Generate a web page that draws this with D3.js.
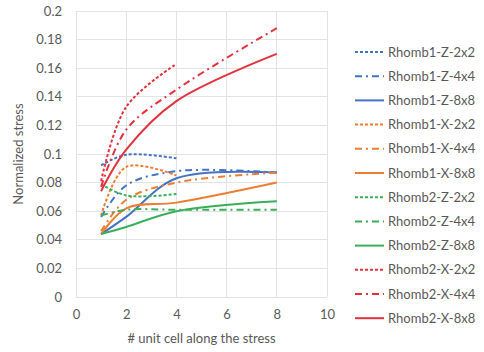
<!DOCTYPE html>
<html>
<head>
<meta charset="utf-8">
<script src="https://cdn.jsdelivr.net/npm/d3@7"></script>
<style>
  html, body { margin: 0; padding: 0; background: #fff; }
  svg { display: block; font-family: Lato, "Open Sans", sans-serif; }
</style>
</head>
<body>
<svg id="chart" width="484" height="352"></svg>
<script>
// Unit-cell counts along the stress direction
const cellsShort = [1, 2, 4];
const cellsLong = [1, 2, 4, 8];

// Normalized stress per configuration
const rhomb1Z2 = [0.092, 0.0995, 0.097];
const rhomb1Z4 = [0.056, 0.078, 0.088, 0.087];
const rhomb1Z8 = [0.044, 0.056, 0.083, 0.087];
const rhomb1X2 = [0.057, 0.091, 0.085];
const rhomb1X4 = [0.046, 0.068, 0.080, 0.087];
const rhomb1X8 = [0.044, 0.062, 0.066, 0.080];
const rhomb2Z2 = [0.079, 0.071, 0.072];
const rhomb2Z4 = [0.057, 0.061, 0.061, 0.061];
const rhomb2Z8 = [0.044, 0.049, 0.060, 0.067];
const rhomb2X2 = [0.081, 0.133, 0.163];
const rhomb2X4 = [0.077, 0.117, 0.145, 0.188];
const rhomb2X8 = [0.074, 0.103, 0.137, 0.170];

const seriesNames = [
  "Rhomb1-Z-2x2", "Rhomb1-Z-4x4", "Rhomb1-Z-8x8",
  "Rhomb1-X-2x2", "Rhomb1-X-4x4", "Rhomb1-X-8x8",
  "Rhomb2-Z-2x2", "Rhomb2-Z-4x4", "Rhomb2-Z-8x8",
  "Rhomb2-X-2x2", "Rhomb2-X-4x4", "Rhomb2-X-8x8"
];
const seriesValues = [
  rhomb1Z2, rhomb1Z4, rhomb1Z8,
  rhomb1X2, rhomb1X4, rhomb1X8,
  rhomb2Z2, rhomb2Z4, rhomb2Z8,
  rhomb2X2, rhomb2X4, rhomb2X8
];

const xTicks = [0, 2, 4, 6, 8, 10];
const yTicks = [0, 0.02, 0.04, 0.06, 0.08, 0.1, 0.12, 0.14, 0.16, 0.18, 0.2];

const colors = { Z1: "#4472C4", X1: "#ED7D31", Z2: "#3AAE5A", X2: "#E2323E" };
const dashes = { "2x2": "3,2", "4x4": "7,4,2,4", "8x8": null };

const svg = d3.select("#chart");
const plot = { left: 76, right: 327, top: 11, bottom: 297 };

const x = d3.scaleLinear().domain([0, 10]).range([plot.left, plot.right]);
const y = d3.scaleLinear().domain([0, 0.2]).range([plot.bottom, plot.top]);

// Grid
const grid = svg.append("g");
grid.selectAll("line.h").data(yTicks).join("line")
  .attr("x1", plot.left).attr("x2", plot.right)
  .attr("y1", d => y(d)).attr("y2", d => y(d))
  .attr("stroke", "#e3e3e3").attr("stroke-width", 1).attr("shape-rendering", "crispEdges");
grid.selectAll("line.v").data(xTicks).join("line")
  .attr("y1", plot.top).attr("y2", plot.bottom)
  .attr("x1", d => x(d)).attr("x2", d => x(d))
  .attr("stroke", "#e3e3e3").attr("stroke-width", 1).attr("shape-rendering", "crispEdges");

// Axes (labels only, lines come from the grid)
const xAxis = svg.append("g")
  .attr("transform", `translate(0,${plot.bottom})`)
  .call(d3.axisBottom(x).tickValues(xTicks).tickSize(0).tickPadding(13).tickFormat(d3.format("d")));
const yAxis = svg.append("g")
  .attr("transform", `translate(${plot.left},0)`)
  .call(d3.axisLeft(y).tickValues(yTicks).tickSize(0).tickPadding(14).tickFormat(d => d === 0 ? "0" : String(+d.toFixed(2))));
[xAxis, yAxis].forEach(a => {
  a.select(".domain").remove();
  a.selectAll("text").attr("fill", "#595959").attr("font-size", 13)
    .attr("font-family", "Lato, 'Open Sans', sans-serif");
});

// Axis titles
svg.append("text")
  .attr("x", (plot.left + plot.right) / 2).attr("y", 343)
  .attr("text-anchor", "middle").attr("fill", "#595959").attr("font-size", 13)
  .text("# unit cell along the stress");
svg.append("text")
  .attr("transform", `translate(23,${(plot.top + plot.bottom) / 2}) rotate(-90)`)
  .attr("text-anchor", "middle").attr("fill", "#595959").attr("font-size", 13)
  .text("Normalized stress");

// Series
function styleOf(name) {
  const parts = name.split("-");
  const key = parts[1] + parts[0].slice(-1);
  return { color: colors[key], dash: dashes[parts[2]] };
}

const line = d3.line()
  .x(d => x(d[0])).y(d => y(d[1]))
  .curve(d3.curveCatmullRom.alpha(0.5));

const series = seriesNames.map((name, i) => {
  const vals = seriesValues[i];
  const xs = vals.length === 3 ? cellsShort : cellsLong;
  return { name, points: vals.map((v, j) => [xs[j], v]), ...styleOf(name) };
});

svg.append("g").selectAll("path").data(series).join("path")
  .attr("d", d => line(d.points))
  .attr("fill", "none")
  .attr("stroke", d => d.color)
  .attr("stroke-width", 2)
  .attr("stroke-dasharray", d => d.dash);

// Legend
const legend = svg.append("g");
const rowY = i => 52 + i * 24.2;
const items = legend.selectAll("g").data(series).join("g")
  .attr("transform", (d, i) => `translate(0,${rowY(i)})`);
items.append("line")
  .attr("x1", 355).attr("x2", 384).attr("y1", 0).attr("y2", 0)
  .attr("stroke", d => d.color).attr("stroke-width", 2)
  .attr("stroke-dasharray", d => d.dash);
items.append("text")
  .attr("x", 388).attr("y", 0).attr("dy", "0.35em")
  .attr("fill", "#595959").attr("font-size", 13)
  .text(d => d.name);
</script>
</body>
</html>
